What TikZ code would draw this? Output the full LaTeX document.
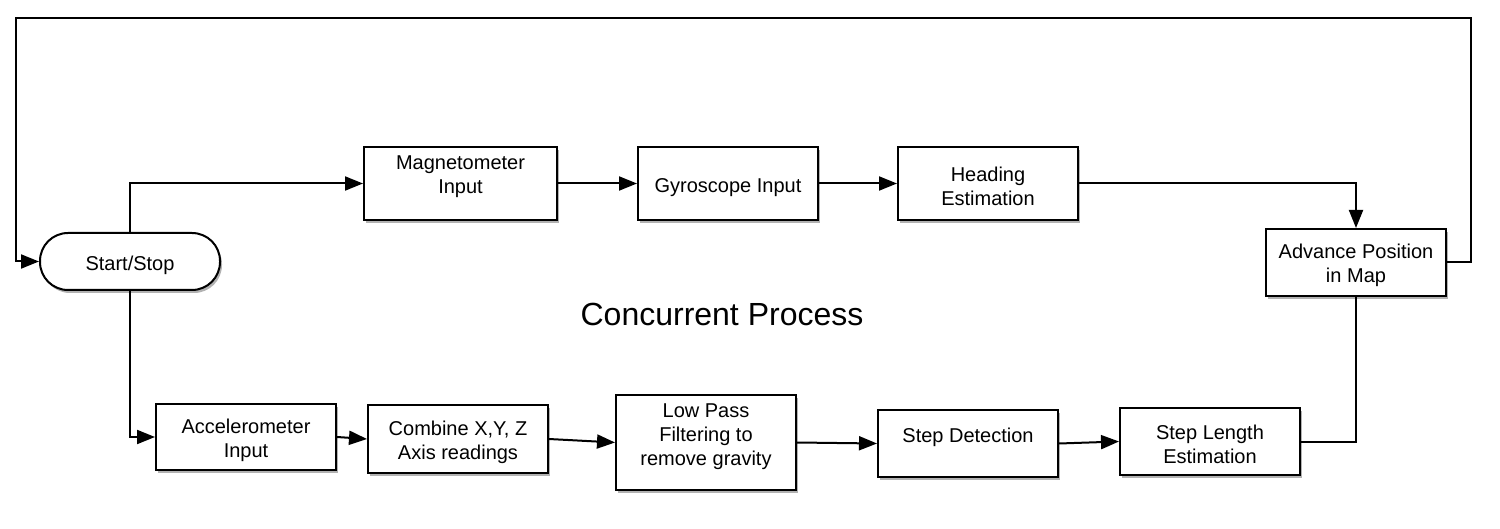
\documentclass[tikz,border=0pt]{standalone}
\usepackage{fontspec}
\setmainfont{Liberation Sans}
\usetikzlibrary{arrows.meta,shadows,positioning}
\newcommand{\tst}{\rule{0pt}{10.5pt}}
\begin{document}
\begin{tikzpicture}[x=0.5pt,y=-0.5pt,
  box/.style={draw=black,line width=1pt,fill=white,inner sep=0pt,
    minimum width=90pt,align=center,font=\fontsize{10}{12}\selectfont,
    drop shadow={shadow xshift=1pt,shadow yshift=-1.5pt,opacity=0.3,fill=black}},
  term/.style={box,rounded corners=14pt},
  conn/.style={line width=1pt},
  arr/.style={conn,-{Triangle[length=9pt,width=7pt]}}]
\useasboundingbox (0,0) rectangle (1500,529);
\node[term,minimum height=28.5pt] (ss) at (130,261.5) {\rule{0pt}{11.5pt}Start/Stop};
\node[box,minimum width=96.5pt,minimum height=36.5pt] (mag) at (460.5,183.5) {\tst Magnetometer\\Input\\\mbox{}};
\node[box,minimum height=36.5pt] (gyr) at (728,183.5) {\rule{0pt}{11.5pt}Gyroscope Input};
\node[box,minimum height=36.5pt] (head) at (988,183.5) {\tst Heading\\Estimation};
\node[box,minimum height=33.5pt] (adv) at (1356,262.5) {\tst Advance Position\\in Map};
\node[box,minimum height=33pt] (acc) at (246,437) {\tst Accelerometer\\Input};
\node[box,minimum height=34pt] (comb) at (458,439) {\tst Combine X,Y, Z\\Axis readings};
\node[box,minimum height=47.5pt] (low) at (706,442.5) {\tst Low Pass\\Filtering to\\remove gravity\\\mbox{}};
\node[box,minimum height=33.5pt] (sdet) at (968,443.5) {\tst Step Detection\\\mbox{}};
\node[box,minimum height=33.5pt] (slen) at (1210,441.5) {\tst Step Length\\Estimation};
\node[font=\fontsize{16}{19}\selectfont] (title) at (722,314) {Concurrent Process};
\draw[arr] (adv.east) -- ++(24,0) |- (16,18) |- (ss.west);
\draw[arr] (ss.north) |- (mag.west);
\draw[arr] (mag.east) -- (gyr.west);
\draw[arr] (gyr.east) -- (head.west);
\draw[arr] (head.east) -| (adv.north);
\draw[arr] (ss.south) |- (acc.west);
\draw[arr] (acc.east) -- (comb.west);
\draw[arr] (comb.east) -- (low.west);
\draw[arr] (low.east) -- (sdet.west);
\draw[arr] (sdet.east) -- (slen.west);
\draw[conn] (slen.east) -| (adv.south);
\end{tikzpicture}
\end{document}
